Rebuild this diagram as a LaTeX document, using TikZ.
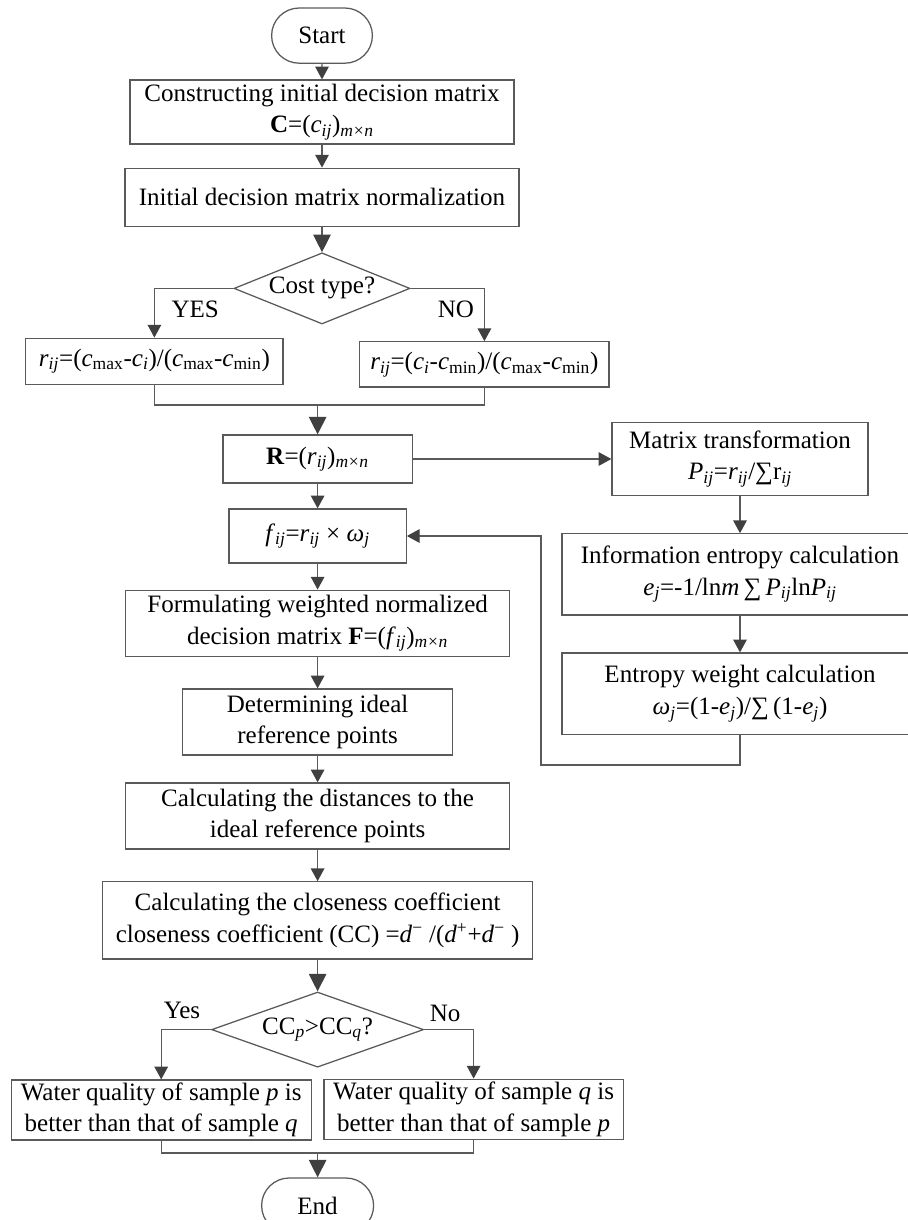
\documentclass[tikz,border=0pt]{standalone}
\usepackage{fontspec}
\setmainfont{Liberation Serif}
\usetikzlibrary{arrows.meta,shapes.geometric,shapes.misc}
\definecolor{linegray}{HTML}{5A5A5A}
\definecolor{tipgray}{HTML}{404040}
\newcommand{\ix}[1]{\textsubscript{\textit{#1}}}
\newcommand{\lo}[1]{\textsubscript{#1}}

\begin{document}
\begin{tikzpicture}[font=\fontsize{17.8}{22.5}\selectfont,
  box/.style={draw=linegray, line width=0.9pt, align=center, inner sep=0pt},
  term/.style={box, rounded rectangle},
  cond/.style={box, diamond},
  flow/.style={draw=linegray, line width=0.9pt},
  arr/.style={flow, -{Triangle[length=0.32cm,width=0.34cm,color=tipgray]}},
  bigarr/.style={flow, -{Triangle[length=0.44cm,width=0.44cm,color=tipgray]}}]
  \useasboundingbox (0,0) rectangle (22.7,-30.5);

  \node[term, minimum width=2.52cm, minimum height=1.38cm] (start) at (8.05,-0.89) {Start};
  \node[box, minimum width=9.6cm, minimum height=1.6cm] (b1) at (8.05,-2.8)
    {Constructing initial decision matrix\\\textbf{C}=(\textit{c}\ix{ij})\ix{m}\lo{×}\ix{n}};
  \node[box, minimum width=9.85cm, minimum height=1.45cm] (b2) at (8.05,-4.93)
    {Initial decision matrix normalization};
  \node[cond, minimum width=4.4cm, minimum height=1.78cm, aspect=2.47] (dec1) at (8.05,-7.21) {Cost type?};
  \node (yes1) at (4.88,-7.73) {YES};
  \node (no1) at (11.4,-7.73) {NO};
  \node[box, minimum width=6.43cm, minimum height=1.15cm] (ya) at (3.86,-9.03)
    {\textit{r}\ix{ij}=(\textit{c}\lo{max}-\textit{c}\ix{i})/(\textit{c}\lo{max}-\textit{c}\lo{min})};
  \node[box, minimum width=6.23cm, minimum height=1.13cm] (na) at (12.11,-9.11)
    {\textit{r}\ix{ij}=(\textit{c}\ix{i}-\textit{c}\lo{min})/(\textit{c}\lo{max}-\textit{c}\lo{min})};
  \coordinate (m1) at (7.94,-10.125);

  \node[box, minimum width=4.73cm, minimum height=1.2cm] (R) at (7.94,-11.475)
    {\textbf{R}=(\textit{r}\ix{ij})\ix{m}\lo{×}\ix{n}};
  \node[box, minimum width=6.4cm, minimum height=1.83cm] (mt) at (18.5,-11.475)
    {Matrix transformation\\\textit{P}\ix{ij}=\textit{r}\ix{ij}/∑r\ix{ij}};
  \node[box, minimum width=4.43cm, minimum height=1.35cm] (f) at (7.94,-13.4)
    {\textit{f}\ix{ij}=\textit{r}\ix{ij} × \textit{ω}\ix{j}};
  \node[box, minimum width=8.9cm, minimum height=2.03cm] (ie) at (18.5,-14.36)
    {Information entropy calculation\\\textit{e}\ix{j}=-1/ln\textit{m}\,∑\,\textit{P}\ix{ij}ln\textit{P}\ix{ij}};
  \node[box, minimum width=8.9cm, minimum height=2.03cm] (ew) at (18.5,-17.34)
    {Entropy weight calculation\\\textit{ω}\ix{j}=(1-\textit{e}\ix{j})/∑\,(1-\textit{e}\ix{j})};
  \coordinate (fb) at (13.525,-19.125);

  \node[box, minimum width=9.6cm, minimum height=1.65cm] (fw) at (7.94,-15.58)
    {Formulating weighted normalized\\decision matrix \textbf{F}=(\textit{f}\ix{ij})\ix{m}\lo{×}\ix{n}};
  \node[box, minimum width=6.75cm, minimum height=1.65cm] (dip) at (7.94,-18.05)
    {Determining ideal\\reference points};
  \node[box, minimum width=9.6cm, minimum height=1.65cm] (dist) at (7.94,-20.4)
    {Calculating the distances to the\\ideal reference points};
  \node[box, minimum width=10.75cm, minimum height=1.93cm] (cc) at (7.94,-23.01)
    {Calculating the closeness coefficient\\closeness coefficient (CC) =\textit{d}\textsuperscript{−} /(\textit{d}\textsuperscript{+}+\textit{d}\textsuperscript{−} )};
  \node[cond, minimum width=5.3cm, minimum height=1.88cm, aspect=2.82] (dec2) at (7.94,-25.74)
    {CC\ix{p}>CC\ix{q}?};
  \node (yes2) at (4.55,-25.25) {Yes};
  \node (no2) at (11.13,-25.33) {No};
  \node[box, minimum width=7.5cm, minimum height=1.5cm] (yb) at (4.03,-27.75)
    {Water quality of sample \textit{p} is\\better than that of sample \textit{q}};
  \node[box, minimum width=7.48cm, minimum height=1.5cm] (nb) at (11.84,-27.73)
    {Water quality of sample \textit{q} is\\better than that of sample \textit{p}};
  \coordinate (m2) at (7.94,-28.825);
  \node[term, minimum width=2.8cm, minimum height=1.38cm] (end) at (7.94,-30.14) {End};

  \foreach \a/\b in {start/b1,b1/b2,R/f,f/fw,fw/dip,dip/dist,dist/cc,mt/ie,ie/ew} \draw[arr] (\a) -- (\b);
  \draw[bigarr] (b2) -- (dec1);
  \draw[arr] (dec1.west) -| (ya.north);
  \draw[arr] (dec1.east) -| (na.north);
  \draw[flow] (ya.south) |- (m1) -| (na.south);
  \draw[bigarr] (m1) -- (R.north);
  \draw[arr] (R) -- (mt);
  \draw[arr] (ew.south) |- (fb) |- (f.east);
  \draw[bigarr] (cc) -- (dec2);
  \draw[arr] (dec2.west) -| (yb.north);
  \draw[arr] (dec2.east) -| (nb.north);
  \draw[flow] (yb.south) |- (m2) -| (nb.south);
  \draw[bigarr] (m2) -- (end.north);
\end{tikzpicture}
\end{document}
